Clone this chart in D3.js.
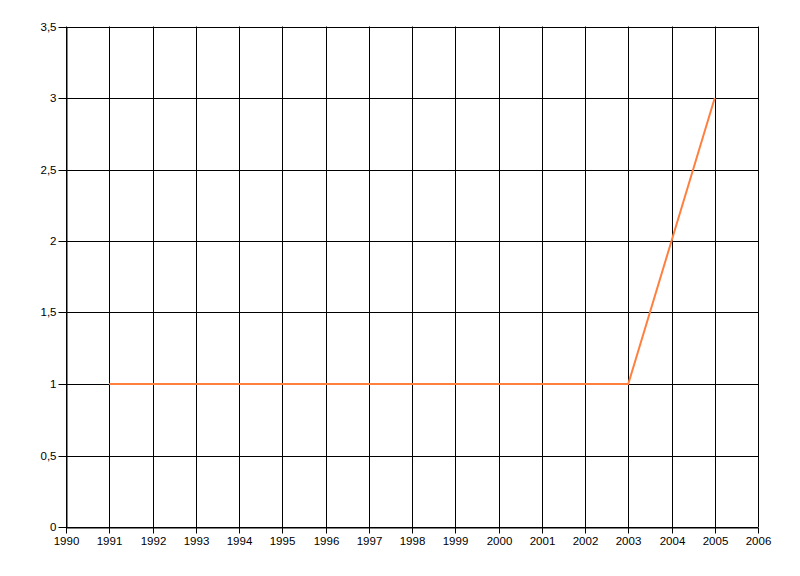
<!DOCTYPE html>
<html><head><meta charset="utf-8">
<script src="https://cdn.jsdelivr.net/npm/d3@7"></script>
<style>body{margin:0;background:#fff}svg{display:block}</style>
</head><body>
<svg id="c" width="800" height="576"></svg>
<script>
const years = [1991,1992,1993,1994,1995,1996,1997,1998,1999,2000,2001,2002,2003,2004,2005];
const values = [1,1,1,1,1,1,1,1,1,1,1,1,1,2,3];
const xTicks = [1990,1991,1992,1993,1994,1995,1996,1997,1998,1999,2000,2001,2002,2003,2004,2005,2006];
const yTicks = [0,0.5,1,1.5,2,2.5,3,3.5];

const svg = d3.select("#c");
const L=66,R=758,T=26.5,B=527;
const x = d3.scaleLinear().domain([1990,2006]).range([L,R]);
const y = d3.scaleLinear().domain([0,3.5]).range([B,T]);
const fmt = d => String(d).replace(".", ",");

const g = svg.append("g");
g.selectAll(".vg").data(xTicks).join("line")
  .attr("x1",d=>Math.round(x(d))+0.5).attr("x2",d=>Math.round(x(d))+0.5)
  .attr("y1",T).attr("y2",B).attr("stroke","#000").attr("stroke-width",1);
g.selectAll(".hg").data(yTicks).join("line")
  .attr("y1",d=>Math.round(y(d))+0.5).attr("y2",d=>Math.round(y(d))+0.5)
  .attr("x1",L).attr("x2",R).attr("stroke","#000").attr("stroke-width",1);

const xa = svg.append("g").attr("transform",`translate(0,${Math.round(B)+0.5})`)
  .call(d3.axisBottom(x).tickValues(xTicks).tickFormat(d=>String(d)).tickSize(6).tickPadding(3).tickSizeOuter(0));
const ya = svg.append("g").attr("transform",`translate(${L+0.5},0)`)
  .call(d3.axisLeft(y).tickValues(yTicks).tickFormat(fmt).tickSize(8).tickPadding(2).tickSizeOuter(0));
[xa,ya].forEach(a=>{
  a.select(".domain").attr("stroke","#000");
  a.selectAll(".tick line").attr("stroke","#000");
  a.selectAll("text").attr("fill","#000").attr("font-family","'Liberation Sans', Arial, sans-serif").attr("font-size","11.5px");
});
xa.selectAll(".tick").attr("transform",d=>`translate(${Math.round(x(d))+0.5},0)`);
ya.selectAll(".tick").attr("transform",d=>`translate(0,${Math.round(y(d))+0.5})`);

const line = d3.line().x((d,i)=>x(years[i])).y(d=>y(d));
svg.append("path").datum(values).attr("d",line)
  .attr("fill","none").attr("stroke","#FF7F3F").attr("stroke-width",2);
</script>
</body></html>
